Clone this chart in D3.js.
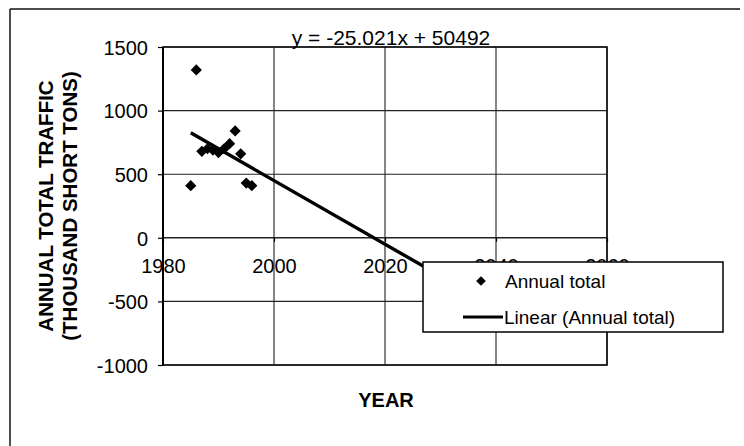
<!DOCTYPE html>
<html>
<head>
<meta charset="utf-8">
<script src="https://cdn.jsdelivr.net/npm/d3@7"></script>
<style>
  body { margin: 0; background: #fff; }
  svg { font-family: "Liberation Sans", Arial, sans-serif; }
</style>
</head>
<body>
<div id="chart"></div>
<script>
// Data
const years  = [1985, 1986, 1987, 1988, 1989, 1990, 1991, 1992, 1993, 1994, 1995, 1996];
const totals = [410, 1320, 680, 700, 690, 670, 700, 740, 840, 660, 430, 410];
const xTicks = [1980, 2000, 2020, 2040, 2060];
const yTicks = [-1000, -500, 0, 500, 1000, 1500];
// trend line y = -25.021x + 50492, drawn from first year forward
const slope = -25.021, intercept = 50492;
const trendYears = [1985, 2030];

const width = 744, height = 446;
const plot = { left: 163, right: 607, top: 47, bottom: 365 };

const svg = d3.select("#chart").append("svg")
  .attr("width", width)
  .attr("height", height);

const x = d3.scaleLinear().domain([1980, 2060]).range([plot.left, plot.right]);
const y = d3.scaleLinear().domain([-1000, 1500]).range([plot.bottom, plot.top]);

// outer frame (top and left edges only show)
svg.append("line").attr("x1", 10).attr("x2", 740).attr("y1", 9).attr("y2", 9)
  .attr("stroke", "#111").attr("stroke-width", 1.5);
svg.append("line").attr("x1", 10).attr("x2", 10).attr("y1", 9).attr("y2", 446)
  .attr("stroke", "#111").attr("stroke-width", 1.5);

// grid
svg.append("g")
  .selectAll("line")
  .data(yTicks)
  .enter().append("line")
    .attr("x1", plot.left).attr("x2", plot.right)
    .attr("y1", d => y(d)).attr("y2", d => y(d))
    .attr("stroke", "#222")
    .attr("stroke-width", d => d === 0 ? 1.6 : 1.1);

svg.append("g")
  .selectAll("line")
  .data(xTicks)
  .enter().append("line")
    .attr("x1", d => x(d)).attr("x2", d => x(d))
    .attr("y1", plot.top).attr("y2", plot.bottom)
    .attr("stroke", "#222")
    .attr("stroke-width", 1.1);

// plot frame
svg.append("rect")
  .attr("x", plot.left).attr("y", plot.top)
  .attr("width", plot.right - plot.left).attr("height", plot.bottom - plot.top)
  .attr("fill", "none").attr("stroke", "#111").attr("stroke-width", 1.6);
svg.append("line")
  .attr("x1", plot.left).attr("x2", plot.left)
  .attr("y1", plot.top).attr("y2", plot.bottom)
  .attr("stroke", "#000").attr("stroke-width", 2);

// y axis
const yAxis = d3.axisLeft(y).tickValues(yTicks).tickFormat(d => String(d)).tickSize(5).tickPadding(10);
svg.append("g")
  .attr("transform", "translate(" + plot.left + ",0)")
  .call(yAxis)
  .call(g => g.select(".domain").remove())
  .call(g => g.selectAll("line").attr("stroke", "#000").attr("stroke-width", 1.2))
  .call(g => g.selectAll("text").attr("fill", "#000").style("font-size", "20px")
    .attr("dy", "0.36em"));

// x axis on the zero line
const xAxis = d3.axisBottom(x).tickValues(xTicks).tickFormat(d => String(d)).tickSize(4).tickPadding(17);
svg.append("g")
  .attr("transform", "translate(0," + y(0) + ")")
  .call(xAxis)
  .call(g => g.select(".domain").remove())
  .call(g => g.selectAll("line").attr("stroke", "#000").attr("stroke-width", 1.2))
  .call(g => g.selectAll("text").attr("fill", "#000").style("font-size", "20px"));

// trend line
const trend = trendYears.map(t => [t, slope * t + intercept]);
svg.append("path")
  .datum(trend)
  .attr("d", d3.line().x(d => x(d[0])).y(d => y(d[1])))
  .attr("stroke", "#000")
  .attr("stroke-width", 3.4)
  .attr("fill", "none");

// points
const diamond = d3.symbol().type(d3.symbolDiamond2).size(80);
svg.append("g")
  .selectAll("path")
  .data(years.map((yr, i) => [yr, totals[i]]))
  .enter().append("path")
    .attr("d", diamond)
    .attr("transform", d => "translate(" + x(d[0]) + "," + y(d[1]) + ")")
    .attr("fill", "#000");

// equation
svg.append("text")
  .attr("x", 391).attr("y", 45)
  .attr("text-anchor", "middle")
  .style("font-size", "21px")
  .text("y = -25.021x + 50492");

// axis titles
svg.append("text")
  .attr("x", 386).attr("y", 407)
  .attr("text-anchor", "middle")
  .style("font-size", "20px").style("font-weight", "bold")
  .text("YEAR");

const yTitle = svg.append("g")
  .attr("transform", "translate(0,206) rotate(-90)");
yTitle.append("text")
  .attr("x", 0).attr("y", 53)
  .attr("text-anchor", "middle")
  .style("font-size", "20.5px").style("font-weight", "bold")
  .text("ANNUAL TOTAL TRAFFIC");
yTitle.append("text")
  .attr("x", 0).attr("y", 77)
  .attr("text-anchor", "middle")
  .style("font-size", "20.5px").style("font-weight", "bold")
  .text("(THOUSAND SHORT TONS)");

// legend
const legend = svg.append("g").attr("class", "legend");
legend.append("rect")
  .attr("x", 423).attr("y", 262)
  .attr("width", 300).attr("height", 70)
  .attr("fill", "#fff")
  .attr("stroke", "#000").attr("stroke-width", 1.5);
legend.append("path")
  .attr("d", d3.symbol().type(d3.symbolDiamond2).size(60))
  .attr("transform", "translate(481,281)")
  .attr("fill", "#000");
legend.append("text")
  .attr("x", 505).attr("y", 288)
  .style("font-size", "19px")
  .text("Annual total");
legend.append("line")
  .attr("x1", 463).attr("x2", 503)
  .attr("y1", 317).attr("y2", 317)
  .attr("stroke", "#000").attr("stroke-width", 3.2);
legend.append("text")
  .attr("x", 504).attr("y", 324)
  .style("font-size", "19px")
  .text("Linear (Annual total)");
</script>
</body>
</html>
